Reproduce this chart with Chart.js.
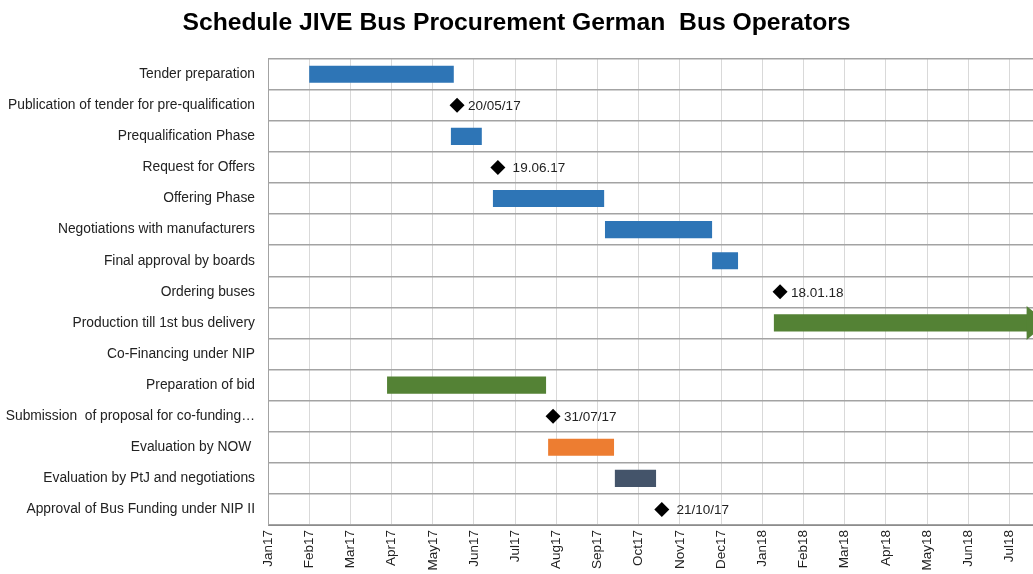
<!DOCTYPE html>
<html>
<head>
<meta charset="utf-8">
<script src="https://cdn.jsdelivr.net/npm/chart.js@4.4.1/dist/chart.umd.min.js"></script>
<style>
  html, body { margin: 0; padding: 0; background: #fff; overflow: hidden; }
  #box { width: 1033px; height: 574px; position: relative; }
</style>
</head>
<body>
<div id="box"><canvas id="ganttChart"></canvas></div>
<script>
// rows of the schedule
const tasks = [
    'Tender preparation',
    'Publication of tender for pre-qualification',
    'Prequalification Phase',
    'Request for Offers',
    'Offering Phase',
    'Negotiations with manufacturers',
    'Final approval by boards',
    'Ordering buses',
    'Production till 1st bus delivery',
    'Co-Financing under NIP',
    'Preparation of bid',
    'Submission  of proposal for co-funding\u2026',
    'Evaluation by NOW ',
    'Evaluation by PtJ and negotiations',
    'Approval of Bus Funding under NIP II'
];

// months since Jan17 (0 = Jan17)
const months = ['Jan17', 'Feb17', 'Mar17', 'Apr17', 'May17', 'Jun17', 'Jul17', 'Aug17', 'Sep17',
    'Oct17', 'Nov17', 'Dec17', 'Jan18', 'Feb18', 'Mar18', 'Apr18', 'May18', 'Jun18', 'Jul18'];

// bar start / end, in months
const taskStart = [1.0, null, 4.44, null, 5.46, 8.18, 10.78, null, 12.28, null, 2.89, null, 6.80, 8.42, null];
const taskEnd   = [4.51, null, 5.19, null, 8.16, 10.78, 11.41, null, 18.9, null, 6.75, null, 8.40, 9.42, null];

// milestones (diamonds)
const milestoneAt = [null, 4.59, null, 5.58, null, null, null, 12.43, null, null, null, 6.92, null, null, 9.56];
const milestoneText = [null, '20/05/17', null, ' 19.06.17', null, null, null, '18.01.18', null, null, null, '31/07/17', null, null, ' 21/10/17'];

const blue = '#2e75b6';
const green = '#548235';
const orange = '#ed7d31';
const slate = '#44546a';
const barColors = [blue, blue, blue, blue, blue, blue, blue, blue, green, green, green, green, orange, slate, green];

const arrowRow = 8; // production bar ends with an arrow head

const fontFamily = '"Liberation Sans", Arial, sans-serif';

// label next to each diamond + arrow head on production bar
const extras = {
    id: 'extras',
    afterDatasetsDraw(chart) {
        const ctx = chart.ctx;
        ctx.save();
        const pts = chart.getDatasetMeta(1).data;
        ctx.font = '13.5px ' + fontFamily;
        ctx.fillStyle = '#222';
        ctx.textBaseline = 'middle';
        pts.forEach((p, i) => {
            if (milestoneText[i] == null) return;
            ctx.fillText(milestoneText[i], p.x + 11, p.y + 1);
        });

        const bar = chart.getDatasetMeta(0).data[arrowRow];
        const area = chart.chartArea;
        ctx.beginPath();
        ctx.rect(area.left, area.top, area.right - area.left, area.bottom - area.top);
        ctx.clip();
        ctx.fillStyle = green;
        ctx.beginPath();
        ctx.moveTo(bar.x, bar.y);
        ctx.lineTo(bar.x - 20, bar.y - 17);
        ctx.lineTo(bar.x - 20, bar.y + 17);
        ctx.closePath();
        ctx.fill();
        ctx.restore();
    }
};

const ctx = document.getElementById('ganttChart').getContext('2d');
const ganttChart = new Chart(ctx, {
    type: 'bar',
    data: {
        labels: tasks,
        datasets: [{
            label: 'tasks',
            data: taskStart.map((s, i) => s == null ? null : [s, taskEnd[i]]),
            backgroundColor: barColors,
            borderWidth: 0,
            barPercentage: 1,
            categoryPercentage: 0.55,
            grouped: false,
            order: 2
        }, {
            type: 'line',
            label: 'milestones',
            data: milestoneAt,
            showLine: false,
            pointStyle: 'rectRot',
            pointRadius: 7.5,
            pointBackgroundColor: '#000',
            pointBorderColor: '#000',
            pointBorderWidth: 0,
            order: 1
        }]
    },
    plugins: [extras],
    options: {
        indexAxis: 'y',
        responsive: true,
        maintainAspectRatio: false,
        animation: false,
        events: [],
        layout: { padding: 0, autoPadding: false },
        plugins: {
            legend: { display: false },
            tooltip: { enabled: false },
            title: {
                display: true,
                text: 'Schedule JIVE Bus Procurement German  Bus Operators',
                color: '#000',
                font: { family: fontFamily, size: 24.7, weight: 'bold' },
                padding: { top: 8, bottom: 21 }
            }
        },
        scales: {
            x: {
                type: 'linear',
                min: 0,
                max: 18.57,
                afterBuildTicks: scale => {
                    scale.ticks = months.map((m, i) => ({ value: i }));
                },
                afterFit: scale => {
                    scale.height = 49;
                    scale.paddingRight = 0;
                },
                ticks: {
                    autoSkip: false,
                    minRotation: 90,
                    maxRotation: 90,
                    padding: 5,
                    color: '#222',
                    font: { family: fontFamily, size: 13.5 },
                    callback: v => months[v]
                },
                grid: { color: '#d9d9d9', lineWidth: 1, drawTicks: false },
                border: { color: '#8c8c8c', width: 1 }
            },
            y: {
                type: 'category',
                afterFit: scale => { scale.width = 268; },
                ticks: {
                    padding: 13,
                    color: '#222',
                    font: { family: fontFamily, size: 13.8 }
                },
                grid: { offset: true, color: '#a3a3a3', lineWidth: 1.5, drawTicks: false },
                border: { color: '#a3a3a3', width: 1 }
            }
        }
    }
});
</script>
</body>
</html>
